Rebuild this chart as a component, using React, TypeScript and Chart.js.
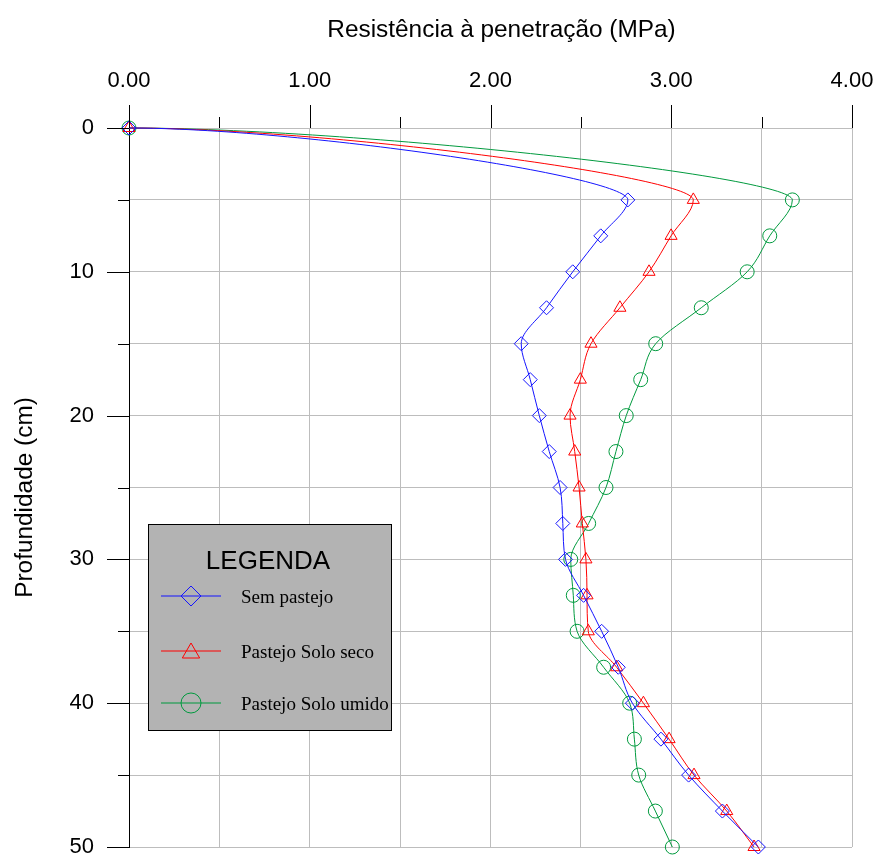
import React, { useEffect, useRef } from 'react';
import { Chart, registerables } from 'chart.js';
import { drawPoint } from 'chart.js/helpers';

Chart.register(...registerables);

// ---- data ----
const depths = [0, 5, 7.5, 10, 12.5, 15, 17.5, 20, 22.5, 25, 27.5, 30, 32.5, 35, 37.5, 40, 42.5, 45, 47.5, 50];
const semPastejo = [0, 2.76, 2.61, 2.455, 2.31, 2.17, 2.22, 2.27, 2.325, 2.385, 2.4, 2.415, 2.515, 2.615, 2.707, 2.785, 2.943, 3.096, 3.283, 3.482];
const pastejoSoloSeco = [0, 3.122, 2.999, 2.877, 2.716, 2.556, 2.497, 2.44, 2.466, 2.49, 2.508, 2.528, 2.534, 2.541, 2.698, 2.846, 2.988, 3.126, 3.307, 3.458];
const pastejoSoloUmido = [0, 3.67, 3.545, 3.42, 3.166, 2.914, 2.831, 2.751, 2.694, 2.639, 2.543, 2.444, 2.458, 2.479, 2.626, 2.77, 2.796, 2.82, 2.912, 3.006];
const seriesNames = ['Sem pastejo', 'Pastejo Solo seco', 'Pastejo Solo umido'];
const seriesColors = ['#1414ff', '#ff0000', '#009a3e'];
const seriesMarkers = ['rectRot', 'triangle', 'circle'];
const xTitle = 'Resistência à penetração (MPa)';
const yTitle = 'Profundidade (cm)';
const legendTitle = 'LEGENDA';
const xMajorTicks = [0, 1, 2, 3, 4];
const yMajorTicks = [0, 10, 20, 30, 40, 50];

const SANS = '"Liberation Sans", Arial, Helvetica, sans-serif';
const SERIF = '"Liberation Serif", "Times New Roman", serif';

const isMajorX = (v: number) => xMajorTicks.some((t) => Math.abs(t - v) < 1e-9);
const isMajorY = (v: number) => yMajorTicks.some((t) => Math.abs(t - v) < 1e-9);

// make the curve leave the surface point (depth 0) with a horizontal tangent
const splineStartPlugin = {
  id: 'splineStart',
  beforeDatasetDraw(chart: any, args: any) {
    const meta = args.meta;
    const line = meta && meta.dataset;
    if (!line || !line.updateControlPoints) return;
    line.updateControlPoints(chart.chartArea, meta.iScale ? meta.iScale.axis : 'y');
    const pts = line.points;
    if (pts && pts.length > 1) {
      pts[0].cp2y = pts[0].y;
    }
  },
};

const decorPlugin = {
  id: 'decor',
  afterDraw(chart: any) {
    const { ctx, chartArea, scales } = chart;
    const xs = scales.x;
    const ys = scales.y;
    ctx.save();
    // tick marks
    ctx.strokeStyle = '#000';
    ctx.lineWidth = 1;
    ctx.beginPath();
    xs.ticks.forEach((t: any) => {
      const px = Math.round(xs.getPixelForValue(t.value)) + 0.5;
      const len = isMajorX(t.value) ? 23 : 11;
      ctx.moveTo(px, chartArea.top);
      ctx.lineTo(px, chartArea.top - len);
    });
    ys.ticks.forEach((t: any) => {
      const py = Math.round(ys.getPixelForValue(t.value)) + 0.5;
      const len = isMajorY(t.value) ? 22 : 11;
      ctx.moveTo(chartArea.left, py);
      ctx.lineTo(chartArea.left - len, py);
    });
    ctx.stroke();

    // axis titles
    ctx.fillStyle = '#000';
    ctx.font = '24.4px ' + SANS;
    ctx.textAlign = 'center';
    ctx.textBaseline = 'alphabetic';
    ctx.fillText(xTitle, (chartArea.left + chartArea.right) / 2 + 11, 37);
    ctx.save();
    ctx.translate(32, (chartArea.top + chartArea.bottom) / 2 + 10);
    ctx.rotate(-Math.PI / 2);
    ctx.fillText(yTitle, 0, 0);
    ctx.restore();

    // legend box
    const bx = chartArea.left + 19;
    const by = chartArea.top + 396;
    const bw = 243;
    const bh = 206;
    ctx.fillStyle = '#b3b3b3';
    ctx.fillRect(bx, by, bw, bh);
    ctx.strokeStyle = '#000';
    ctx.strokeRect(bx + 0.5, by + 0.5, bw, bh);
    ctx.fillStyle = '#000';
    ctx.font = '26px ' + SANS;
    ctx.textAlign = 'center';
    ctx.textBaseline = 'alphabetic';
    ctx.fillText(legendTitle, bx + 120, by + 45);
    const rowY = [72, 127, 179];
    seriesNames.forEach((name, i) => {
      const y = by + rowY[i];
      ctx.strokeStyle = seriesColors[i];
      ctx.lineWidth = 1.2;
      ctx.beginPath();
      ctx.moveTo(bx + 13, y);
      ctx.lineTo(bx + 73, y);
      ctx.stroke();
      ctx.lineWidth = 1;
      ctx.fillStyle = 'rgba(0,0,0,0)';
      drawPoint(ctx, { pointStyle: seriesMarkers[i], radius: 10, rotation: 0, borderWidth: 1 } as any, bx + 43, y + (i === 1 ? 2 : 0));
      ctx.fillStyle = '#000';
      ctx.font = '19px ' + SERIF;
      ctx.textAlign = 'left';
      ctx.textBaseline = 'alphabetic';
      ctx.fillText(name, bx + 93, y + 7);
    });
    ctx.restore();
  },
};

export default function App() {
  const ref = useRef<HTMLCanvasElement | null>(null);
  useEffect(() => {
    if (!ref.current) return;
    const series = [semPastejo, pastejoSoloSeco, pastejoSoloUmido];
    const chart = new Chart(ref.current, {
      type: 'line',
      data: {
        datasets: series.map((vals, i) => ({
          label: seriesNames[i],
          data: depths.map((d, j) => ({ x: vals[j], y: d })),
          borderColor: seriesColors[i],
          backgroundColor: 'rgba(0,0,0,0)',
          borderWidth: 1,
          pointStyle: seriesMarkers[i],
          pointRadius: 7,
          pointBorderWidth: 1,
          pointBackgroundColor: 'rgba(0,0,0,0)',
          pointBorderColor: seriesColors[i],
          cubicInterpolationMode: 'monotone',
          fill: false,
          clip: false,
        })) as any,
      },
      options: {
        indexAxis: 'y',
        responsive: false,
        maintainAspectRatio: false,
        devicePixelRatio: 1,
        animation: false,
        events: [],
        layout: { padding: { left: 0, top: 0, right: 24, bottom: 7 } },
        plugins: { legend: { display: false }, tooltip: { enabled: false }, title: { display: false } },
        scales: {
          x: {
            type: 'linear',
            position: 'top',
            min: 0,
            max: 4,
            grid: { color: '#bdbdbd', lineWidth: 1, drawTicks: true, tickLength: 23, tickColor: 'rgba(0,0,0,0)' },
            border: { display: false },
            ticks: {
              stepSize: 0.5,
              autoSkip: false,
              maxRotation: 0,
              padding: 11,
              color: '#000',
              font: { family: SANS, size: 22 },
              callback: (v: any) => (isMajorX(Number(v)) ? Number(v).toFixed(2) : ''),
            },
            afterFit: (s: any) => {
              s.height = 128;
              s.paddingLeft = 0;
              s.paddingRight = 0;
            },
          },
          y: {
            type: 'linear',
            reverse: true,
            min: 0,
            max: 50,
            grid: { color: '#bdbdbd', lineWidth: 1, drawTicks: true, tickLength: 22, tickColor: 'rgba(0,0,0,0)' },
            border: { display: true, color: '#000', width: 1 },
            ticks: {
              stepSize: 5,
              autoSkip: false,
              padding: 13,
              color: '#000',
              font: { family: SANS, size: 22 },
              callback: (v: any) => (isMajorY(Number(v)) ? String(v) : ''),
            },
            afterFit: (s: any) => {
              s.width = 129;
              s.paddingTop = 0;
              s.paddingBottom = 0;
            },
          },
        },
      } as any,
      plugins: [splineStartPlugin, decorPlugin],
    });
    return () => chart.destroy();
  }, []);
  return (
    <div style={{ position: 'fixed', left: 0, top: 0, width: 876, height: 855, background: '#fff' }}>
      <canvas ref={ref} width={876} height={855} style={{ width: 876, height: 855, display: 'block' }} />
    </div>
  );
}
